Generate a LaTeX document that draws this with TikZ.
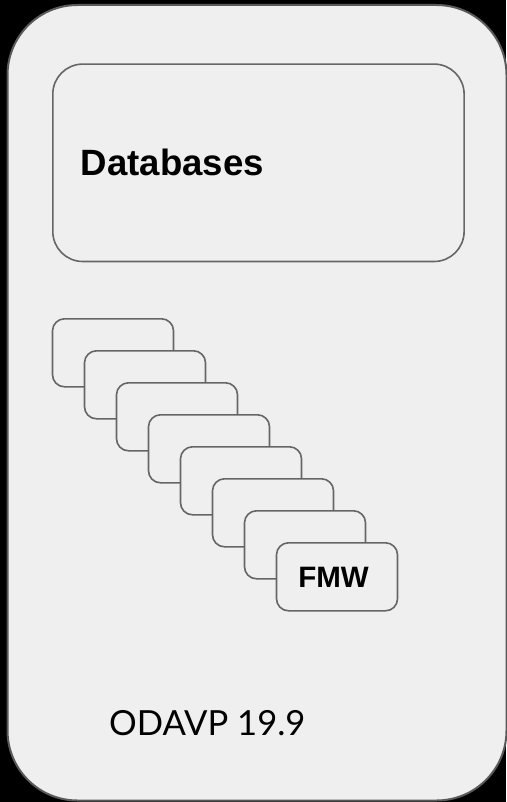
\documentclass[tikz,border=0pt]{standalone}
\usepackage{fontspec}
\setmainfont{Liberation Sans}
\newfontfamily\latofont{Lato}
\definecolor{bgfill}{HTML}{EFEFEF}
\definecolor{edgegray}{HTML}{666666}
\definecolor{outergray}{HTML}{5A5A5A}
\begin{document}
\begin{tikzpicture}[x=1pt,y=-1pt,
  panel/.style={draw=edgegray, fill=bgfill, rounded corners=12pt, line width=1.6pt,
    minimum width=121pt, minimum height=68pt, inner sep=0pt, anchor=north west},
  bigbox/.style={draw=edgegray, fill=bgfill, rounded corners=30pt, line width=1.6pt,
    minimum width=411.3pt, minimum height=197.4pt, inner sep=0pt, anchor=north west},
  boldlabel/.style={inner sep=0pt, font=\bfseries\fontsize{36.6}{40}\selectfont},
  plainlabel/.style={inner sep=0pt, font=\latofont\fontsize{34.6}{40}\selectfont}]
\fill[black] (0,0) rectangle (506,802);
\useasboundingbox (0,0) rectangle (506,802);
\draw[draw=outergray, fill=bgfill, line width=2pt, rounded corners=70pt] (7.5,5) rectangle (506.5,800.5);
\node[bigbox] (db) at (52,63.3) {};
\node[boldlabel, anchor=base west] (dbl) at (80.5,175.7) {Databases};
\foreach \i in {0,...,7}{
  \node[panel] (s\i) at ({51.7+32*\i},{318+32*\i}) {};
}
\node[inner sep=0pt, font=\bfseries\fontsize{29.5}{30}\selectfont] (fmw) at ([xshift=-3.5pt,yshift=-0.5pt]s7.center) {FMW};
\node[plainlabel, anchor=base west] (odavp) at (109,735) {ODAVP 19.9};
\end{tikzpicture}
\end{document}
